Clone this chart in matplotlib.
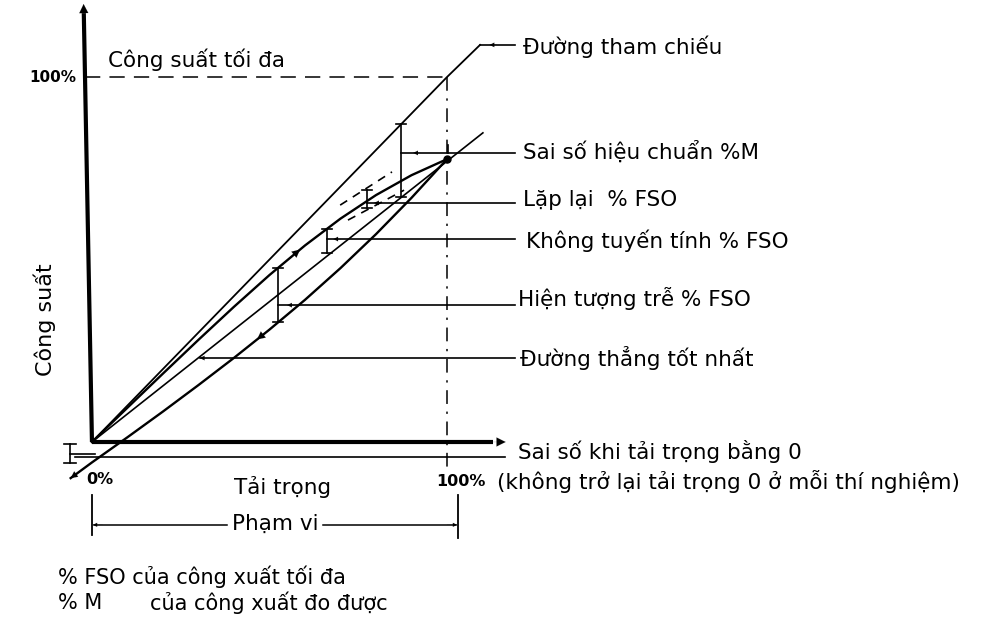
import numpy as np
import matplotlib
matplotlib.use('Agg')
import matplotlib.pyplot as plt

plt.rcParams['font.family'] = ['DejaVu Sans']

# ---------------- data (x = load %, y = output %) ----------------
ref_x = [0, 100, 109.3]
ref_y = [0, 100, 108.8]

up_x = [0, 10, 20, 30, 40, 50, 60, 70, 80, 90, 100]
up_y = [0, 9.4, 18.75, 28.0, 37.05, 45.75, 53.85, 61.2, 67.65, 73.1, 77.5]

down_x = [100, 90, 80, 70, 60, 50, 40, 30, 20, 10, 0, -6]
down_y = [77.5, 66.9, 56.95, 47.65, 38.95, 30.8, 23.05, 15.6, 8.35, 1.3, -5.6, -9.9]

best_x = [0, 110.1]
best_y = [0, 84.7]

rep_hi_x = [69.9, 84.5]
rep_hi_y = [64.9, 74.0]
rep_lo_x = [72.1, 87.9]
rep_lo_y = [60.8, 69.0]

zero_offset = -4.1
full_scale = 100

# error brackets: x, top, bottom
bracket_x = [87.0, 77.5, 66.2, 52.4]
bracket_top = [87.0, 69.0, 58.4, 47.7]
bracket_bot = [67.0, 64.1, 51.8, 32.8]

# leaders to labels
leader_labels = ["Đường tham chiếu", "Sai số hiệu chuẩn %M", "Lặp lại  % FSO",
                 "Không tuyến tính % FSO", "Hiện tượng trễ % FSO", "Đường thẳng tốt nhất"]
leader_y = [108.8, 79.2, 65.5, 55.6, 37.5, 23.0]
leader_x0 = [109.3, 87.0, 77.5, 66.2, 52.4, 30.4]
leader_arrow_x = [112.0, 90.5, 79.5, 68.0, 55.0, 30.4]
label_x = [121.4, 121.4, 121.4, 122.3, 120.0, 120.6]
label_y = [108.4, 79.5, 66.3, 55.1, 39.2, 23.0]
leader_end = 119.2

# ---------------- figure ----------------
fig = plt.figure(figsize=(9.91, 6.19), dpi=100)
ax = fig.add_axes([0, 0, 1, 1])
ax.set_xlim(-25.9, 253.2)
ax.set_ylim(-48.5, 121.1)
ax.axis('off')

K = 'black'
FS = 15.5

def arrow(tip, tail, ms=12, lw=1.0):
    ax.annotate('', xy=tip, xytext=tail,
                arrowprops=dict(arrowstyle='-|>', color=K, lw=lw,
                                mutation_scale=ms, shrinkA=0, shrinkB=0))

# axes
ax.plot([0, -2.3], [0, 117.5], color=K, lw=3.0, solid_capstyle='butt')
arrow((-2.35, 120.0), (-2.2, 112.0), ms=16, lw=0.1)
ax.plot([0, 113], [0, 0], color=K, lw=3.0, solid_capstyle='butt')
arrow((116.5, 0), (110, 0), ms=16, lw=0.1)

# zero-offset line
ax.plot([-4.8, 116.3], [zero_offset, zero_offset], color=K, lw=1.2)

# full-scale dashed lines
ax.plot([-2.0, full_scale], [100, 100], color=K, lw=1.1, dashes=(10, 6))
ax.plot([full_scale, full_scale], [100, -7.7], color=K, lw=1.1, dashes=(9, 5, 1.5, 5))

# reference line
ax.plot(ref_x, ref_y, color=K, lw=1.3)
ax.plot([ref_x[2], leader_end], [ref_y[2], ref_y[2]], color=K, lw=1.2)

# best straight line
ax.plot(best_x, best_y, color=K, lw=1.2)

# up & down curves
ax.plot(up_x, up_y, color=K, lw=1.7)
ax.plot(down_x, down_y, color=K, lw=1.7)
ax.plot([up_x[-1]], [up_y[-1]], 'o', color=K, ms=5)

# direction arrows on curves
xa = 58.6
ya = np.interp(xa, up_x, up_y)
yb = np.interp(xa - 3, up_x, up_y)
arrow((xa, ya), (xa - 3, yb), ms=14, lw=0.1)
dx_r = down_x[::-1]; dy_r = down_y[::-1]
xa = 46.5
ya = np.interp(xa, dx_r, dy_r)
yb = np.interp(xa + 3, dx_r, dy_r)
arrow((xa, ya), (xa + 3, yb), ms=14, lw=0.1)
arrow((down_x[-1], down_y[-1]), (down_x[-1] + 2, np.interp(down_x[-1] + 2, dx_r, dy_r)), ms=12, lw=0.1)

# repeatability band (dashed)
ax.plot(rep_hi_x, rep_hi_y, color=K, lw=1.2, dashes=(5, 4))
ax.plot(rep_lo_x, rep_lo_y, color=K, lw=1.2, dashes=(5, 4))

# brackets
cap = 1.4
for bx, bt, bb in zip(bracket_x, bracket_top, bracket_bot):
    ax.plot([bx, bx], [bt, bb], color=K, lw=1.2)
    ax.plot([bx - cap, bx + cap], [bt, bt], color=K, lw=1.2)
    ax.plot([bx - cap, bx + cap], [bb, bb], color=K, lw=1.2)
# calibration tick at end
ax.plot([100.3, 100.3], [79.2, 81.4], color=K, lw=1.2)

# leaders
for ly, lx0 in zip(leader_y[1:], leader_x0[1:]):
    ax.plot([lx0, leader_end], [ly, ly], color=K, lw=1.2)
for ly, lax in zip(leader_y, leader_arrow_x):
    arrow((lax, ly), (lax + 2.0, ly), ms=8, lw=0.1)

for t, lx, ly in zip(leader_labels, label_x, label_y):
    ax.text(lx, ly, t, fontsize=FS, va='center', ha='left')

# zero offset bracket
ax.plot([-6.2, -6.2], [-0.6, -5.8], color=K, lw=1.2)
ax.plot([-7.9, -4.5], [-0.6, -0.6], color=K, lw=1.2)
ax.plot([-7.9, -4.5], [-5.8, -5.8], color=K, lw=1.2)
ax.plot([-6.2, 0.8], [-3.3, -3.3], color=K, lw=1.2)

# range
ax.plot([0, 0], [-14.5, -25.5], color=K, lw=1.3)
ax.plot([103.1, 103.1], [-14.5, -26.3], color=K, lw=1.3)
ax.plot([0.5, 38], [-22.7, -22.7], color=K, lw=1.1)
ax.plot([65, 102.6], [-22.7, -22.7], color=K, lw=1.1)
arrow((0.3, -22.7), (3, -22.7), ms=7, lw=0.1)
arrow((102.8, -22.7), (100, -22.7), ms=7, lw=0.1)
ax.text(51.5, -22.3, "Phạm vi", fontsize=FS, ha='center', va='center')

# texts
ax.text(4.5, 104.7, "Công suất tối đa", fontsize=FS, va='center', ha='left')
ax.text(-4.5, 100, "100%", fontsize=11, fontweight='bold', va='center', ha='right')
ax.text(120.0, -2.7, "Sai số khi tải trọng bằng 0", fontsize=FS, va='center', ha='left')
ax.text(97.0, -10.7, "100%", fontsize=11.5, fontweight='bold', va='center', ha='left')
ax.text(114.1, -10.7, "(không trở lại tải trọng 0 ở mỗi thí nghiệm)", fontsize=FS, va='center', ha='left')
ax.text(-1.5, -10.4, "0%", fontsize=11.5, fontweight='bold', va='center', ha='left')
ax.text(53.8, -12.3, "Tải trọng", fontsize=FS, va='center', ha='center')
ax.text(-13.2, 33.4, "Công suất", fontsize=16, va='center', ha='center', rotation=90)
ax.text(-9.6, -37.0, "% FSO của công xuất tối đa", fontsize=15, va='center', ha='left')
ax.text(-9.6, -44.1, "% M", fontsize=15, va='center', ha='left')
ax.text(16.3, -44.1, "của công xuất đo được", fontsize=15, va='center', ha='left')

fig.savefig('out.png', dpi=100)
